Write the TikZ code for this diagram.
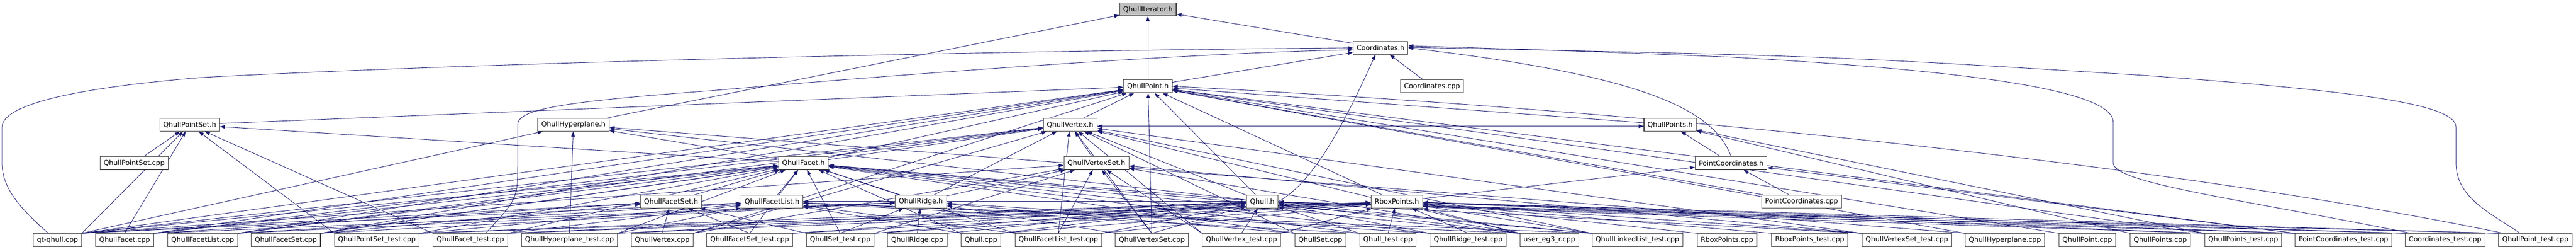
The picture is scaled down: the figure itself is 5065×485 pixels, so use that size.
\documentclass[tikz,border=0pt]{standalone}
\usepackage{fontspec}
\setmainfont{DejaVu Sans}
\usetikzlibrary{arrows.meta}
\definecolor{edgeblue}{RGB}{25,25,112}
\definecolor{boxgray}{RGB}{64,64,64}
\tikzset{
	filenode/.style = {rectangle, draw=boxgray, fill=white, line width=1.1pt,
		font=\fontsize{13.5}{16}\selectfont, minimum height=25.5pt,
		inner xsep=7pt, inner ysep=0pt},
	rootnode/.style = {filenode, fill=black!25},
	inc/.style = {draw=edgeblue, line width=0.9pt}
}
\pgfdeclarelayer{edges}
\pgfsetlayers{edges,main}
\begin{document}
\begin{tikzpicture}[x=1pt, y=-1pt, ->, >={Triangle[length=10pt,width=7pt]}]
\useasboundingbox (0,0) rectangle (5065,485);
% headers
\node [rootnode] (it) at (2257,18.5) {QhullIterator.h};
\node [filenode] (co) at (2714.5,94) {Coordinates.h};
\node [filenode] (pt) at (2257,169.5) {QhullPoint.h};
\node [filenode] (cocpp) at (2815.6,169.5) {Coordinates.cpp};
\node [filenode] (pset) at (373,245) {QhullPointSet.h};
\node [filenode] (hyp) at (1127.6,245) {QhullHyperplane.h};
\node [filenode] (vx) at (2104,245) {QhullVertex.h};
\node [filenode] (pts) at (3283.8,245) {QhullPoints.h};
\node [filenode] (psetcpp) at (263.7,320.5) {QhullPointSet.cpp};
\node [filenode] (fc) at (1579.7,320.5) {QhullFacet.h};
\node [filenode] (vset) at (2155.7,320.5) {QhullVertexSet.h};
\node [filenode] (pco) at (3403.8,320.5) {PointCoordinates.h};
\node [filenode] (fset) at (1319.5,396) {QhullFacetSet.h};
\node [filenode] (flist) at (1518,396) {QhullFacetList.h};
\node [filenode] (rdg) at (1810.6,396) {QhullRidge.h};
\node [filenode] (qh) at (2482,396) {Qhull.h};
\node [filenode] (rbox) at (2746.4,396) {RboxPoints.h};
\node [filenode] (pcocpp) at (3542.3,396) {PointCoordinates.cpp};
% sources
\node [filenode] (qtqhull) at (113,471.5) {qt-qhull.cpp};
\node [filenode] (facetcpp) at (245,471.5) {QhullFacet.cpp};
\node [filenode] (flistcpp) at (398.4,471.5) {QhullFacetList.cpp};
\node [filenode] (fsetcpp) at (562,471.5) {QhullFacetSet.cpp};
\node [filenode] (psettest) at (741,471.5) {QhullPointSet\_test.cpp};
\node [filenode] (facettest) at (925,471.5) {QhullFacet\_test.cpp};
\node [filenode] (hyptest) at (1119.7,471.5) {QhullHyperplane\_test.cpp};
\node [filenode] (vxcpp) at (1302,471.5) {QhullVertex.cpp};
\node [filenode] (fsettest) at (1474,471.5) {QhullFacetSet\_test.cpp};
\node [filenode] (settest) at (1652,471.5) {QhullSet\_test.cpp};
\node [filenode] (rdgcpp) at (1803.6,471.5) {QhullRidge.cpp};
\node [filenode] (qhcpp) at (1928.8,471.5) {Qhull.cpp};
\node [filenode] (flisttest) at (2080.9,471.5) {QhullFacetList\_test.cpp};
\node [filenode] (vsetcpp) at (2264.8,471.5) {QhullVertexSet.cpp};
\node [filenode] (vxtest) at (2441,471.5) {QhullVertex\_test.cpp};
\node [filenode] (setcpp) at (2596,471.5) {QhullSet.cpp};
\node [filenode] (qhtest) at (2729,471.5) {Qhull\_test.cpp};
\node [filenode] (rdgtest) at (2886.6,471.5) {QhullRidge\_test.cpp};
\node [filenode] (usereg) at (3046.4,471.5) {user\_eg3\_r.cpp};
\node [filenode] (lltest) at (3219.5,471.5) {QhullLinkedList\_test.cpp};
\node [filenode] (rboxcpp) at (3395.7,471.5) {RboxPoints.cpp};
\node [filenode] (rboxtest) at (3558.3,471.5) {RboxPoints\_test.cpp};
\node [filenode] (vsettest) at (3749.4,471.5) {QhullVertexSet\_test.cpp};
\node [filenode] (hypcpp) at (3942,471.5) {QhullHyperplane.cpp};
\node [filenode] (ptcpp) at (4104,471.5) {QhullPoint.cpp};
\node [filenode] (ptscpp) at (4247.4,471.5) {QhullPoints.cpp};
\node [filenode] (ptstest) at (4410.5,471.5) {QhullPoints\_test.cpp};
\node [filenode] (pcotest) at (4607.8,471.5) {PointCoordinates\_test.cpp};
\node [filenode] (cotest) at (4807.5,471.5) {Coordinates\_test.cpp};
\node [filenode] (pttest) at (4985,471.5) {QhullPoint\_test.cpp};

\begin{pgfonlayer}{edges}
% header to header
\draw [inc] (pt) -- (it);
\draw [inc] (hyp) -- (it);
\draw [inc] (co) -- (it);
\draw [inc] (pt) -- (co);
\draw [inc] (cocpp) -- (co);
\draw [inc] (pco.north) .. controls (3370,220) and (3250,150) .. (co.east);
\draw [inc] (qh.east) .. controls (2580,360) and (2640,250) .. ([xshift=-10pt]co.south);
\foreach \h in {pset,vx,pts,fc,qh,rbox,pcocpp} \draw [inc] (\h) -- (pt);
\foreach \h in {fc,qh} \draw [inc] (\h) -- (hyp);
\foreach \h in {fc,psetcpp} \draw [inc] (\h) -- (pset);
\foreach \h in {vset,rdg,qh} \draw [inc] (\h) -- (vx);
\draw [inc] ([yshift=-3pt]vx.east) -- ([yshift=-3pt]pts.west);
\draw [inc] ([yshift=-3pt]pts.west) -- ([yshift=-3pt]vx.east);
\draw [inc] (pco) -- (pts);
\foreach \h in {fset,flist,rdg,qh} \draw [inc] (\h) -- (fc);
\draw [inc] (rdg) -- (vset);
\draw [inc] (qh) -- (flist);
\draw [inc] (rbox) -- (pco);
\draw [inc] (pcocpp) -- (pco);
% long routed edges
\draw [inc] ([xshift=-18pt]qtqhull.north) .. controls (40,410) and (4,370) .. (4,320)
	-- (4,250) .. controls (4,205) and (150,172) .. (400,152)
	.. controls (900,125) and (1900,100) .. (co.west);
\draw [inc] ([xshift=30pt]facettest.north) .. controls (1018,390) .. (1018,320)
	-- (1018,245) .. controls (1018,215) and (1100,200) .. (1400,178)
	.. controls (1900,135) and (2400,102) .. ([yshift=-4pt]co.west);
\draw [inc] ([xshift=12pt]cotest.north west) .. controls (4400,390) and (4155,360) .. (4155,320)
	-- (4155,240) .. controls (4155,180) and (3900,140) .. (3400,112)
	.. controls (3100,100) .. ([yshift=4pt]co.east);
\draw [inc] ([xshift=-30pt]pttest.north) .. controls (4900,420) and (4829,390) .. (4829,320)
	-- (4829,250) .. controls (4829,205) and (4650,180) .. (4215,148)
	.. controls (3600,110) .. ([yshift=1pt]co.east);
\draw [inc] ([xshift=10pt]pttest.north west) .. controls (4300,330) and (3300,220) .. (pt.east);
% sources
\foreach \s/\a in {qtqhull/north east, facetcpp/north east, flistcpp/north east,
	fsetcpp/north east, vxcpp/north east, vsetcpp/north, hypcpp/north west,
	ptcpp/north west, ptstest/north west, pcotest/north west}
	\draw [inc] (\s.\a) -- (pt);
\foreach \s/\a in {qtqhull/north east, hyptest/north, hypcpp/north west}
	\draw [inc] (\s.\a) -- (hyp);
\foreach \s/\a in {qtqhull/north east, facetcpp/north, psettest/north west,
	facettest/north west}
	\draw [inc] (\s.\a) -- (pset);
\foreach \s/\a in {qtqhull/north east, facetcpp/north east, flistcpp/north east,
	fsetcpp/north east, vxcpp/north east, flisttest/north, vsetcpp/north,
	vxtest/north west, setcpp/north west, usereg/north west, lltest/north west,
	vsettest/north west}
	\draw [inc] (\s.\a) -- (vx);
\foreach \s/\a in {ptscpp/north west, ptstest/north west}
	\draw [inc] (\s.\a) -- (pts);
\foreach \s/\a in {qtqhull/north east, facetcpp/north east, flistcpp/north east,
	fsetcpp/north east, psettest/north east, facettest/north east,
	hyptest/north east, fsettest/north, settest/north, qhcpp/north west,
	flisttest/north west, setcpp/north west, qhtest/north west,
	rdgtest/north west, usereg/north west, lltest/north west}
	\draw [inc] (\s.\a) -- (fc);
\foreach \s/\a in {qtqhull/north east, settest/north east, vxcpp/north east,
	flisttest/north, vsetcpp/north, vxtest/north west, usereg/north west,
	vsettest/north west}
	\draw [inc] (\s.\a) -- (vset);
\foreach \s/\a in {pcotest/north west}
	\draw [inc] (\s.\a) -- (pco);
\foreach \s/\a in {qtqhull/north east, facetcpp/north east, fsetcpp/north east,
	vxcpp/north, fsettest/north, settest/north west}
	\draw [inc] (\s.\a) -- (fset);
\foreach \s/\a in {qtqhull/north east, flistcpp/north east, psettest/north east,
	facettest/north east, hyptest/north east, qhcpp/north west,
	flisttest/north west, qhtest/north west, usereg/north west, lltest/north west}
	\draw [inc] (\s.\a) -- (flist);
\foreach \s/\a in {facetcpp/north east, flistcpp/north east, fsetcpp/north east,
	settest/north, rdgcpp/north, vsetcpp/north west, setcpp/north west,
	rdgtest/north west}
	\draw [inc] (\s.\a) -- (rdg);
\foreach \s/\a in {psettest/north east, facettest/north east, hyptest/north east,
	fsettest/north east, settest/north east, rdgcpp/north east, qhcpp/north east,
	flisttest/north east, vsetcpp/north, vxtest/north, qhtest/north west,
	rdgtest/north west, usereg/north west, lltest/north west, vsettest/north west,
	ptstest/north west, pcotest/north west, cotest/north west, pttest/north west}
	\draw [inc] (\s.\a) -- (qh);
\foreach \s/\a in {psettest/north east, facettest/north east, hyptest/north east,
	fsettest/north east, settest/north east, qhcpp/north east,
	flisttest/north east, vxtest/north east, qhtest/north, rdgtest/north,
	usereg/north west, lltest/north west, rboxcpp/north west,
	rboxtest/north west, vsettest/north west, ptstest/north west,
	pcotest/north west, cotest/north west, pttest/north west}
	\draw [inc] (\s.\a) -- (rbox);
\end{pgfonlayer}
\end{tikzpicture}
\end{document}
